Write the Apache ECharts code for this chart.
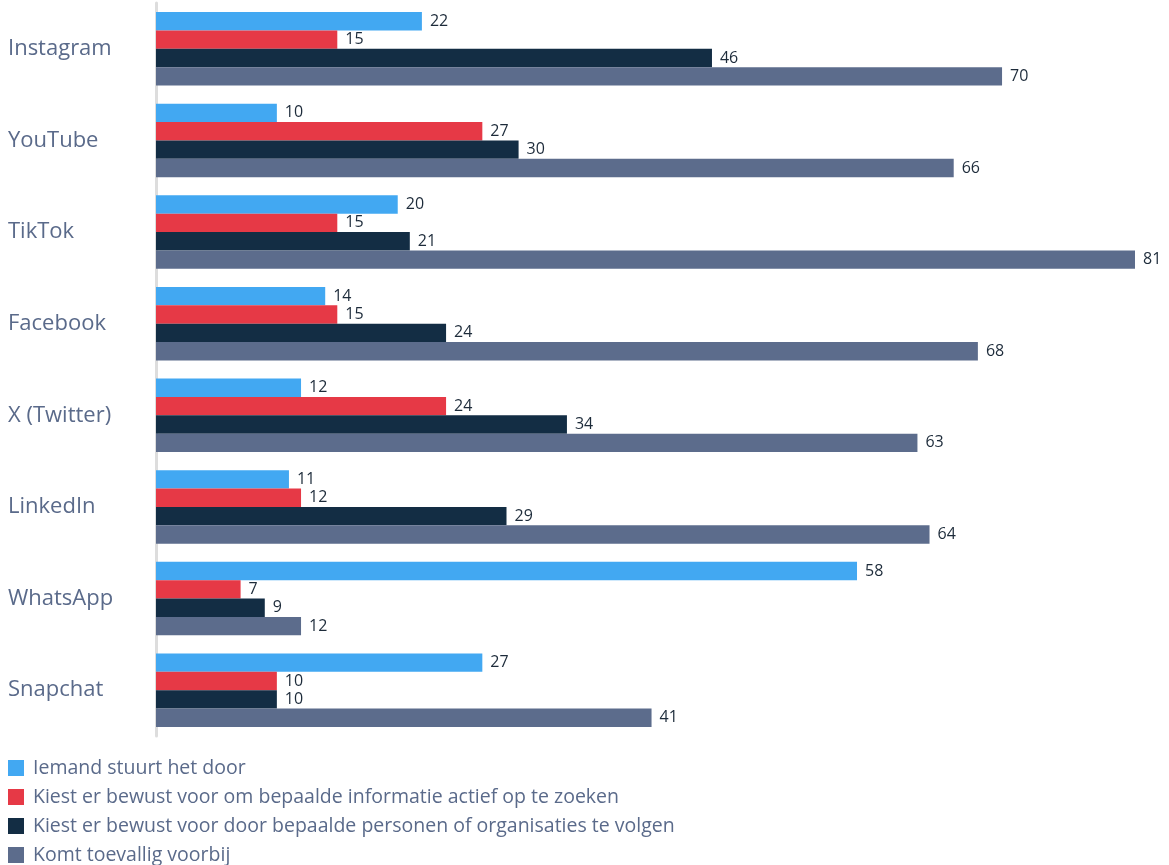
<!DOCTYPE html>
<html><head><meta charset="utf-8">
<script src="https://cdn.jsdelivr.net/npm/echarts@6/dist/echarts.min.js"></script>
<style>html,body{margin:0;padding:0;background:#fff}#c{width:1169px;height:865px}</style>
</head><body><div id="c"></div>
<script>
const categories = ["Instagram","YouTube","TikTok","Facebook","X (Twitter)","LinkedIn","WhatsApp","Snapchat"];
const seriesNames = ["Iemand stuurt het door","Kiest er bewust voor om bepaalde informatie actief op te zoeken","Kiest er bewust voor door bepaalde personen of organisaties te volgen","Komt toevallig voorbij"];
const doorgestuurd = [22,10,20,14,12,11,58,27];
const actiefZoeken = [15,27,15,15,24,12,7,10];
const volgen = [46,30,21,24,34,29,9,10];
const toevallig = [70,66,81,68,63,64,12,41];
const colors = ["#42a8f2","#e63946","#132d44","#5c6c8c"];
const values = [doorgestuurd, actiefZoeken, volgen, toevallig];

const chart = echarts.init(document.getElementById('c'));
chart.setOption({
  animation:false,
  textStyle:{fontFamily:"Open Sans"},
  grid:{left:156,right:34,top:3,bottom:129,containLabel:false},
  xAxis:{type:'value',min:0,max:81,show:false},
  yAxis:{type:'category',data:categories,inverse:true,
    axisLine:{show:true,lineStyle:{color:'#dddddd',width:3}},
    axisTick:{show:false},
    axisLabel:{align:'left',margin:148,fontSize:22,color:'#5a6a8a',fontFamily:"Open Sans"}},
  legend:{orient:'vertical',left:8,top:758,height:140,padding:0,itemWidth:16,itemHeight:16,itemGap:9,icon:'rect',
    textStyle:{fontSize:19.5,color:'#5a6a8a',fontFamily:"Open Sans",padding:[0,0,0,4]}},
  series: seriesNames.map((n,i)=>({
    name:n,type:'bar',data:values[i],barWidth:18.4,barGap:'0%',
    itemStyle:{color:colors[i]},
    label:{show:true,position:'right',distance:8,fontSize:16,color:'#1d2b3a',fontFamily:"Open Sans"}
  }))
});
</script></body></html>
